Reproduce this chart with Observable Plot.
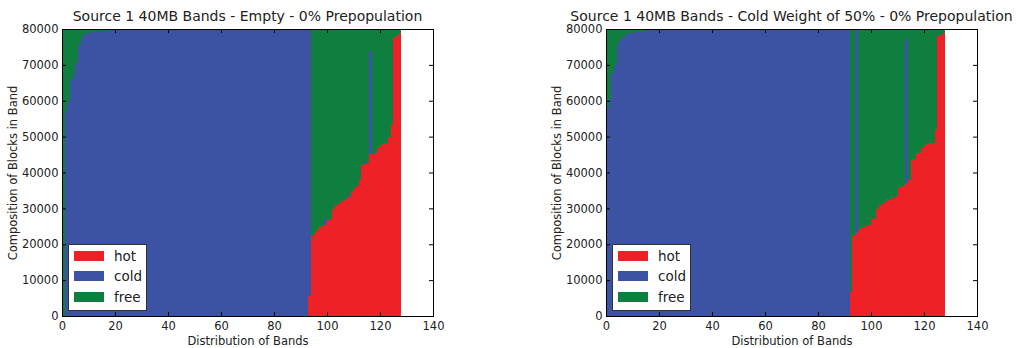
<!DOCTYPE html>
<html><head><meta charset="utf-8">
<script src="https://cdn.jsdelivr.net/npm/d3@7"></script>
<script src="https://cdn.jsdelivr.net/npm/@observablehq/plot@0.6"></script>
<style>
body{margin:0;background:#fff;font-family:"DejaVu Sans",sans-serif;}
#wrap{position:relative;width:1019px;height:348px;overflow:hidden;background:#fff}
.svgbox{position:absolute;top:22px}
.title{position:absolute;top:9px;font-size:14px;line-height:14px;color:#222;white-space:nowrap;transform:translateX(-50%)}
.legend{position:absolute;top:244px;width:77px;height:65px;background:#fff;border:1px solid #333;}
.patch{position:absolute;left:5px;width:29.5px;height:10px}
.ltxt{position:absolute;left:45px;font-size:13.5px;line-height:14px;color:#222}
</style>
</head><body>
<div id="wrap"></div>
<script>
const types = ["hot", "cold", "free"];
const colors = ["#ee2127", "#3c53a4", "#0f7f40"];
const xTicks = [0, 20, 40, 60, 80, 100, 120, 140];
const yTicks = [0, 10000, 20000, 30000, 40000, 50000, 60000, 70000, 80000];
const titleL = "Source 1 40MB Bands - Empty - 0% Prepopulation";
const titleR = "Source 1 40MB Bands - Cold Weight of 50% - 0% Prepopulation";
const xLabel = "Distribution of Bands";
const yLabel = "Composition of Blocks in Band";

const hotL = [
0,0,0,0,0,0,0,0,0,0,
0,0,0,0,0,0,0,0,0,0,
0,0,0,0,0,0,0,0,0,0,
0,0,0,0,0,0,0,0,0,0,
0,0,0,0,0,0,0,0,0,0,
0,0,0,0,0,0,0,0,0,0,
0,0,0,0,0,0,0,0,0,0,
0,0,0,0,0,0,0,0,0,0,
0,0,0,0,0,0,0,0,0,0,
0,0,0,5600,22300,23000,24000,24700,25400,25500,
26800,27000,29700,30900,31200,31900,32300,32700,33100,34900,
35800,36200,37900,42000,42300,42700,45200,45200,45400,46800,
47700,47900,48100,50000,53200,77700,78300,78800];
const coldL = [
0,57000,59700,65800,67200,70400,75500,77400,78300,78800,
79000,79200,79300,79500,79500,79500,79500,79700,79700,79700,
79700,79700,79700,79700,79700,80000,80000,80000,80000,80000,
80000,80000,80000,80000,80000,80000,80000,80000,80000,80000,
80000,80000,80000,80000,80000,80000,80000,80000,80000,80000,
80000,80000,80000,80000,80000,80000,80000,80000,80000,80000,
80000,80000,80000,80000,80000,80000,80000,80000,80000,80000,
80000,80000,80000,80000,80000,80000,80000,80000,80000,80000,
80000,80000,80000,80000,80000,80000,80000,80000,80000,80000,
80000,80000,80000,74400,0,0,0,0,0,1400,
0,0,0,0,0,0,0,0,700,0,
0,0,0,0,700,0,28700,0,0,0,
0,0,0,0,0,0,0,0];
const freeL = [
80000,23000,20300,14200,12800,9600,4500,2600,1700,1200,
1000,800,700,500,500,500,500,300,300,300,
300,300,300,300,300,0,0,0,0,0,
0,0,0,0,0,0,0,0,0,0,
0,0,0,0,0,0,0,0,0,0,
0,0,0,0,0,0,0,0,0,0,
0,0,0,0,0,0,0,0,0,0,
0,0,0,0,0,0,0,0,0,0,
0,0,0,0,0,0,0,0,0,0,
0,0,0,0,57700,57000,56000,55300,54600,53100,
53200,53000,50300,49100,48800,48100,47700,47300,46200,45100,
44200,43800,42100,38000,37000,37300,6100,34800,34600,33200,
32300,32100,31900,30000,26800,2300,1700,1200];

const hotR = [
0,0,0,0,0,0,0,0,0,0,
0,0,0,0,0,0,0,0,0,0,
0,0,0,0,0,0,0,0,0,0,
0,0,0,0,0,0,0,0,0,0,
0,0,0,0,0,0,0,0,0,0,
0,0,0,0,0,0,0,0,0,0,
0,0,0,0,0,0,0,0,0,0,
0,0,0,0,0,0,0,0,0,0,
0,0,0,0,0,0,0,0,0,0,
0,0,6800,22300,23000,24100,24500,24900,25400,25400,
26900,27000,29700,30900,31200,31900,32300,32500,33000,33400,
35800,36000,36200,37000,37900,43500,43700,45300,45500,46800,
47700,48100,48200,48300,51800,78000,78300,79000];
const coldR = [
58000,60500,67600,70000,75500,77000,77900,78400,78800,79000,
79000,79300,79300,79300,79300,79600,79600,79600,79600,79600,
79600,79600,79600,79600,79600,80000,80000,80000,80000,80000,
80000,80000,80000,80000,80000,80000,80000,80000,80000,80000,
80000,80000,80000,80000,80000,80000,80000,80000,80000,80000,
80000,80000,80000,80000,80000,80000,80000,80000,80000,80000,
80000,80000,80000,80000,80000,80000,80000,80000,80000,80000,
80000,80000,80000,80000,80000,80000,80000,80000,80000,80000,
80000,80000,80000,80000,80000,80000,80000,80000,80000,80000,
80000,80000,0,0,56800,0,0,0,0,0,
0,0,0,0,0,0,0,0,0,0,
0,0,0,40100,0,0,0,0,0,0,
0,0,0,0,0,0,0,0];
const freeR = [
22000,19500,12400,10000,4500,3000,2100,1600,1200,1000,
1000,700,700,700,700,400,400,400,400,400,
400,400,400,400,400,0,0,0,0,0,
0,0,0,0,0,0,0,0,0,0,
0,0,0,0,0,0,0,0,0,0,
0,0,0,0,0,0,0,0,0,0,
0,0,0,0,0,0,0,0,0,0,
0,0,0,0,0,0,0,0,0,0,
0,0,0,0,0,0,0,0,0,0,
0,0,73200,57700,200,55900,55500,55100,54600,54600,
53100,53000,50300,49100,48800,48100,47700,47500,47000,46600,
44200,44000,43800,2900,42100,36500,36300,34700,34500,33200,
32300,31900,31800,31700,28200,2000,1700,1000];

function rows(hot, cold, free) {
  const out = [];
  hot.forEach((v, i) => {
    out.push({band: i, type: "hot", value: hot[i]});
    out.push({band: i, type: "cold", value: cold[i]});
    out.push({band: i, type: "free", value: free[i]});
  });
  return out;
}

const wrap = document.getElementById("wrap");

function panel(data, title, {left, width, ml, mr}) {
  const H = 326, mt = 7, mb = 32;
  const fh = H - mt - mb, fw = width - ml - mr;
  const plot = Plot.plot({
    width, height: H, marginLeft: ml, marginRight: mr, marginTop: mt, marginBottom: mb,
    x: {domain: [0, 140]},
    y: {domain: [0, 80000]},
    color: {domain: types, range: colors},
    style: {fontFamily: "DejaVu Sans", fontSize: "11.5px", color: "#222", background: "white", overflow: "visible"},
    marks: [
      Plot.rectY(data, {x1: "band", x2: d => d.band + 1, y: "value", fill: "type", order: types, inset: 0, shapeRendering: "crispEdges"}),
      Plot.frame({stroke: "#000", strokeWidth: 1}),
      Plot.tickX(xTicks, {x: d => d, insetTop: fh - 4, stroke: "#000"}),
      Plot.tickX(xTicks, {x: d => d, insetBottom: fh - 4, stroke: "#000"}),
      Plot.tickY(yTicks, {y: d => d, insetRight: fw - 4, stroke: "#000"}),
      Plot.tickY(yTicks, {y: d => d, insetLeft: fw - 4, stroke: "#000"}),
      Plot.axisX(xTicks, {tickSize: 0, tickPadding: 5, tickFormat: d => String(d), label: null}),
      Plot.axisY(yTicks, {tickSize: 0, tickPadding: 4, tickFormat: d => String(d), label: null}),
      Plot.text([xLabel], {frameAnchor: "bottom", dy: 25, lineAnchor: "middle", textAnchor: "middle", text: d => d, fontSize: 11.5}),
      Plot.text([yLabel], {frameAnchor: "left", dx: -49, rotate: -90, lineAnchor: "middle", textAnchor: "middle", text: d => d, fontSize: 11.5})
    ]
  });
  const box = document.createElement("div");
  box.className = "svgbox";
  box.style.left = left + "px";
  box.appendChild(plot);
  wrap.appendChild(box);

  const t = document.createElement("div");
  t.className = "title";
  t.style.left = (left + ml + fw / 2) + "px";
  t.textContent = title;
  wrap.appendChild(t);

  const lg = document.createElement("div");
  lg.className = "legend";
  lg.style.left = (left + ml + 6) + "px";
  types.forEach((ty, k) => {
    const p = document.createElement("div");
    p.className = "patch";
    p.style.top = (6 + k * 20.3) + "px";
    p.style.background = colors[k];
    lg.appendChild(p);
    const tx = document.createElement("div");
    tx.className = "ltxt";
    tx.style.top = (4 + k * 20.3) + "px";
    tx.textContent = ty;
    lg.appendChild(tx);
  });
  wrap.appendChild(lg);
}

panel(rows(hotL, coldL, freeL), titleL, {left: 0, width: 509, ml: 62, mr: 76});
panel(rows(hotR, coldR, freeR), titleR, {left: 509, width: 510, ml: 97, mr: 42});
</script>
</body></html>
